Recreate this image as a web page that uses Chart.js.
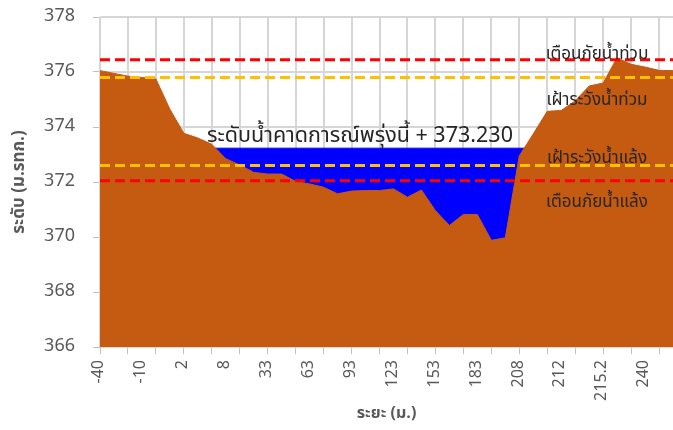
<!DOCTYPE html>
<html>
<head>
<meta charset="utf-8">
<script src="https://cdn.jsdelivr.net/npm/chart.js@4.4.1/dist/chart.umd.min.js"></script>
<style>
html,body{margin:0;padding:0;background:#fff;}
#wrap{width:673px;height:430px;position:relative;}
</style>
</head>
<body>
<div id="wrap"><canvas id="c" width="673" height="430"></canvas></div>
<script>
const distances = ['-40','-30','-20','-10','-5','0','2','4','6','8','13','23','33','43','53','63','73','83','93','103','113','123','133','143','153','163','173','183','193','203','208','209','210','212','213','214','215.2','220','230','240','250','260'];
const groundLevel = [376.05,375.95,375.85,375.80,375.75,374.65,373.77,373.60,373.37,372.85,372.62,372.35,372.29,372.29,372.02,371.93,371.81,371.57,371.67,371.69,371.69,371.75,371.45,371.71,370.96,370.42,370.82,370.82,369.88,369.97,372.95,373.75,374.57,374.60,374.95,375.49,375.60,376.52,376.28,376.18,376.06,376.05];
const waterLevelTomorrow = 373.230;
const floodWarning = 376.45;
const floodWatch = 375.80;
const droughtWatch = 372.60;
const droughtWarning = 372.05;
const yTicks = [366,368,370,372,374,376,378];
const waterLabel = 'ระดับน้ำคาดการณ์พรุ่งนี้ + ' + waterLevelTomorrow.toFixed(3);
const thresholdLabels = ['เตือนภัยน้ำท่วม','เฝ้าระวังน้ำท่วม','เฝ้าระวังน้ำแล้ง','เตือนภัยน้ำแล้ง'];

const FONT = "'Noto Sans Thai', 'Leelawadee UI', Tahoma, 'Noto Sans', 'DejaVu Sans', sans-serif";
const GRID = '#D6D6D6';
const constLine = v => distances.map(() => v);

// gridlines drawn from the library's own scales, beneath the filled areas
const gridPlugin = {
  id: 'gridUnder',
  beforeDatasetsDraw(chart) {
    const {ctx, chartArea: a, scales: {x, y}} = chart;
    ctx.save();
    ctx.strokeStyle = GRID;
    ctx.lineWidth = 2;
    ctx.setLineDash([]);
    ctx.beginPath();
    y.ticks.forEach(t => {
      const py = Math.round(y.getPixelForValue(t.value));
      ctx.moveTo(a.left, py); ctx.lineTo(a.right, py);
    });
    x.ticks.forEach((t, i) => {
      if (i % 2 !== 0) return;
      const px = Math.round(x.getPixelForTick(i));
      ctx.moveTo(px, a.top); ctx.lineTo(px, a.bottom);
    });
    ctx.stroke();
    ctx.restore();
  }
};

const labelPlugin = {
  id: 'labels',
  afterDatasetsDraw(chart) {
    const {ctx, scales: {y}} = chart;
    ctx.save();
    ctx.fillStyle = '#262626';
    ctx.textBaseline = 'alphabetic';
    ctx.font = '21.5px ' + FONT;
    ctx.textAlign = 'left';
    ctx.fillText(waterLabel, 207, y.getPixelForValue(waterLevelTomorrow) - 6);
    ctx.font = '17px ' + FONT;
    ctx.textAlign = 'center';
    const cx = 597;
    ctx.fillText(thresholdLabels[0], cx, y.getPixelForValue(floodWarning) - 1);
    ctx.fillText(thresholdLabels[1], cx, y.getPixelForValue(floodWatch) + 27);
    ctx.fillText(thresholdLabels[2], cx, y.getPixelForValue(droughtWatch) - 3);
    ctx.fillText(thresholdLabels[3], cx, y.getPixelForValue(droughtWarning) + 26);
    ctx.restore();
  }
};

const dash = (label, v, color) => ({
  type: 'line', label, data: constLine(v), borderColor: color, borderWidth: 3,
  backgroundColor: 'rgba(0,0,0,0)',
  borderDash: [10, 5], pointRadius: 0, fill: false, order: 0, tension: 0
});

new Chart(document.getElementById('c'), {
  type: 'line',
  data: {
    labels: distances,
    datasets: [
      dash('เตือนภัยน้ำท่วม', floodWarning, '#FF0000'),
      dash('เฝ้าระวังน้ำท่วม', floodWatch, '#FFC000'),
      dash('เฝ้าระวังน้ำแล้ง', droughtWatch, '#FFC000'),
      dash('เตือนภัยน้ำแล้ง', droughtWarning, '#FF0000'),
      { label: 'ระดับตลิ่ง', data: groundLevel, backgroundColor: '#C55A11', borderWidth: 1,
        borderColor: '#C55A11', pointRadius: 0, fill: 'start', order: 1, tension: 0 },
      { label: 'ระดับน้ำ', data: constLine(waterLevelTomorrow), backgroundColor: '#0000FF', borderWidth: 1,
        borderColor: '#0000FF', pointRadius: 0, fill: 'start', order: 2, tension: 0 }
    ]
  },
  options: {
    responsive: false,
    animation: false,
    layout: { padding: { top: 17, right: 0, left: 10, bottom: 6 } },
    plugins: { legend: { display: false }, tooltip: { enabled: false } },
    scales: {
      x: {
        offset: false,
        grid: {
          drawOnChartArea: false,
          color: c => (c.index % 2 === 0 ? GRID : 'rgba(0,0,0,0)'),
          tickColor: c => (c.index % 2 === 0 ? '#BFBFBF' : 'rgba(0,0,0,0)'),
          tickLength: 7
        },
        border: { color: '#BFBFBF', width: 1 },
        ticks: {
          autoSkip: false, minRotation: 90, maxRotation: 90, padding: 6,
          color: '#595959', font: { family: FONT, size: 16 },
          callback: (v, i) => (i % 3 === 0 ? distances[i] : '')
        },
        title: { display: true, text: 'ระยะ (ม.)', color: '#595959',
                 font: { family: FONT, size: 16, weight: 'bold' }, padding: { top: 4, bottom: 0 } },
        afterFit: s => { s.height = 77; s.paddingLeft = 0; s.paddingRight = 0; }
      },
      y: {
        min: 366, max: 378,
        afterBuildTicks: s => { s.ticks = yTicks.map(v => ({ value: v })); },
        grid: { drawOnChartArea: false, color: GRID, tickColor: '#BFBFBF', tickLength: 7 },
        border: { color: '#BFBFBF', width: 1 },
        ticks: { color: '#595959', font: { family: FONT, size: 18 }, padding: 18 },
        title: { display: true, text: 'ระดับ (ม.รทก.)', color: '#595959',
                 font: { family: FONT, size: 17, weight: 'bold' }, padding: { top: 0, bottom: 4 } },
        afterFit: s => { s.width = 90; s.paddingTop = 0; s.paddingBottom = 0; }
      }
    }
  },
  plugins: [gridPlugin, labelPlugin]
});
</script>
</body>
</html>
